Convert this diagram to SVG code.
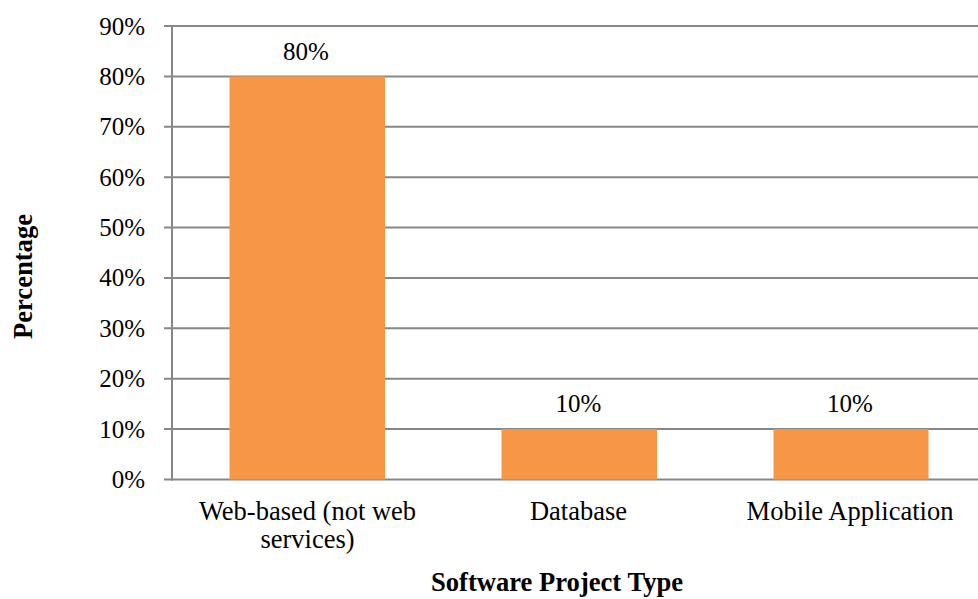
<svg xmlns="http://www.w3.org/2000/svg" width="978" height="599" viewBox="0 0 978 599">
  <style>
    .grid { stroke: #878787; stroke-width: 2; fill: none; }
    .bar { fill: #F79646; }
    .tick { font-family: "Liberation Serif", "Times New Roman", serif; font-size: 25px; fill: #000; text-anchor: end; }
    .val { font-family: "Liberation Serif", "Times New Roman", serif; font-size: 25px; fill: #000; text-anchor: middle; }
    .cat { font-family: "Liberation Serif", "Times New Roman", serif; font-size: 26.5px; fill: #000; text-anchor: middle; }
    .title { font-family: "Liberation Serif", "Times New Roman", serif; font-size: 26.6px; font-weight: bold; fill: #000; text-anchor: middle; }
  </style>
  <rect width="978" height="599" fill="#ffffff"/>

  <!-- horizontal gridlines, 10% steps -->
  <g id="gridlines">
    <line class="grid" x1="164" y1="26" x2="978" y2="26"/>
    <line class="grid" x1="164" y1="76.4" x2="978" y2="76.4"/>
    <line class="grid" x1="164" y1="126.8" x2="978" y2="126.8"/>
    <line class="grid" x1="164" y1="177.2" x2="978" y2="177.2"/>
    <line class="grid" x1="164" y1="227.6" x2="978" y2="227.6"/>
    <line class="grid" x1="164" y1="277.9" x2="978" y2="277.9"/>
    <line class="grid" x1="164" y1="328.3" x2="978" y2="328.3"/>
    <line class="grid" x1="164" y1="378.7" x2="978" y2="378.7"/>
    <line class="grid" x1="164" y1="429.1" x2="978" y2="429.1"/>
    <line class="grid" x1="164" y1="479.5" x2="978" y2="479.5"/>
    <line class="grid" x1="172" y1="25" x2="172" y2="480.5"/>
  </g>

  <!-- y-axis tick labels -->
  <g id="y-axis-labels">
    <text class="tick" x="145" y="34.5">90%</text>
    <text class="tick" x="145" y="84.9">80%</text>
    <text class="tick" x="145" y="135.3">70%</text>
    <text class="tick" x="145" y="185.7">60%</text>
    <text class="tick" x="145" y="236.1">50%</text>
    <text class="tick" x="145" y="286.4">40%</text>
    <text class="tick" x="145" y="336.8">30%</text>
    <text class="tick" x="145" y="387.2">20%</text>
    <text class="tick" x="145" y="437.6">10%</text>
    <text class="tick" x="145" y="488">0%</text>
  </g>

  <!-- bars with value labels -->
  <g id="bar-web">
    <rect class="bar" x="229.5" y="76.4" width="155.5" height="403.1"/>
    <text class="val" x="306" y="59.5">80%</text>
  </g>
  <g id="bar-database">
    <rect class="bar" x="501.5" y="429.1" width="155.5" height="50.4"/>
    <text class="val" x="578.5" y="412">10%</text>
  </g>
  <g id="bar-mobile">
    <rect class="bar" x="773.5" y="429.1" width="155" height="50.4"/>
    <text class="val" x="850" y="412">10%</text>
  </g>

  <!-- category labels -->
  <g id="x-axis-labels">
    <text class="cat" x="307.5" y="520">Web-based (not web</text>
    <text class="cat" x="307.5" y="548">services)</text>
    <text class="cat" x="578.5" y="520">Database</text>
    <text class="cat" x="850" y="520">Mobile Application</text>
  </g>

  <!-- axis titles -->
  <g id="axis-titles">
    <text class="title" x="557" y="591">Software Project Type</text>
    <text class="title" transform="translate(32 276.5) rotate(-90)" x="0" y="0">Percentage</text>
  </g>
</svg>
